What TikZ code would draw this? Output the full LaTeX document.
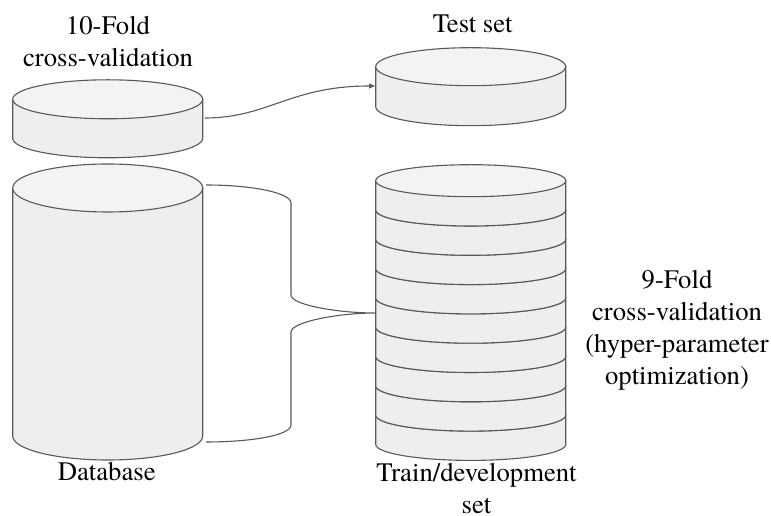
\documentclass[tikz,border=0pt]{standalone}
\usepackage{fontspec}
\setmainfont{texgyretermes-regular.otf}
\newfontfamily\labelfont{texgyretermes-regular.otf}
\usetikzlibrary{arrows.meta}

\definecolor{edge}{HTML}{595959}
\definecolor{bodyfill}{HTML}{EEEEEE}
\definecolor{topfill}{HTML}{F3F3F3}

% \drumshape{cx}{top centre y}{x radius}{y radius}{height}
\newcommand{\drumshape}[5]{%
  \path[drumline, fill=bodyfill]
    (#1-#3,#2) -- (#1-#3,#2-#5)
    arc[start angle=180, end angle=360, x radius=#3, y radius=#4]
    -- (#1+#3,#2) -- cycle;
  \path[drumline, fill=topfill] (#1,#2) ellipse[x radius=#3, y radius=#4];
}

\begin{document}
\begin{tikzpicture}[x=1pt, y=1pt,
  drumline/.style={draw=edge, line width=1.1pt},
  link/.style={draw=edge, line width=1.1pt},
  label/.style={font=\labelfont\fontsize{26.7}{32}\selectfont, align=center, inner sep=0pt, anchor=base}]
  \useasboundingbox (0,0) rectangle (771,516);

  % single-drum sets
  \drumshape{107.7}{416.7}{95}{19.5}{39}
  \drumshape{470.7}{449.3}{95}{19}{40}
  \drumshape{107.7}{328}{95}{24}{248}

  % nine stacked folds, drawn bottom up
  \foreach \k in {8,...,0}{
    \pgfmathsetmacro{\yc}{335.3-29.3*\k}
    \drumshape{470.7}{\yc}{95}{16}{29.3}
  }

  % connector end points
  \coordinate (foldOut) at (205,398);
  \coordinate (testIn)  at (375,430);
  \coordinate (dbTop)   at (206,331);
  \coordinate (dbBot)   at (206,74);
  \coordinate (trainIn) at (375,203);

  % outer fold to test set
  \draw[link, -{Triangle[length=6pt, width=5pt, fill=edge]}]
    (foldOut) .. controls (268,398) and (290,430) .. (testIn);

  % brace from database to train/development stack
  \draw[link]
    (dbTop) .. controls (253,331) and (291,323) .. (291,313)
    -- (291,221) .. controls (291,211) and (338,203) .. (trainIn)
    .. controls (338,203) and (291,194) .. (291,184)
    -- (291,91) .. controls (291,81) and (253,74) .. (dbBot);

  % labels (base anchor sits on the last line)
  \node[label] (outerLbl) at (108,449.3) {10-Fold\\cross-validation};
  \node[label] (testLbl)  at (472.7,483.3) {Test set};
  \node[label] (dbLbl)    at (106.7,35) {Database};
  \node[label] (trainLbl) at (476.5,2.5) {Train/development\\set};
  \node[label] (innerLbl) at (677,131) {9-Fold\\cross-validation\\(hyper-parameter\\optimization)};
\end{tikzpicture}
\end{document}
